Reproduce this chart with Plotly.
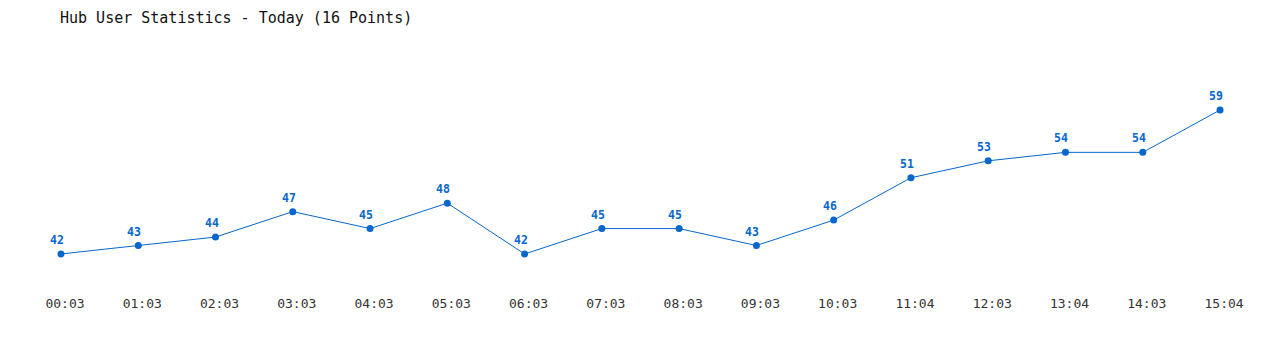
import plotly.graph_objects as go

times = ["00:03", "01:03", "02:03", "03:03", "04:03", "05:03", "06:03", "07:03",
         "08:03", "09:03", "10:03", "11:04", "12:03", "13:04", "14:03", "15:04"]
users = [42, 43, 44, 47, 45, 48, 42, 45, 45, 43, 46, 51, 53, 54, 54, 59]
title_text = "Hub User Statistics - Today (16 Points)"

blue = "#0866cc"
mono = "DejaVu Sans Mono"
xs = list(range(len(times)))

fig = go.Figure()
fig.add_trace(go.Scatter(
    x=xs, y=users,
    mode="lines+markers",
    line=dict(color=blue, width=1),
    marker=dict(color=blue, size=7),
    hoverinfo="skip",
    cliponaxis=False,
))

for x, v in zip(xs, users):
    fig.add_annotation(x=x, y=v, text=str(v), showarrow=False,
                       xanchor="center", yanchor="middle", xshift=-4, yshift=14,
                       font=dict(family=mono, size=11.5, color=blue, weight="bold"))

fig.update_layout(
    width=1280, height=350,
    margin=dict(l=0, r=0, t=0, b=58),
    paper_bgcolor="white", plot_bgcolor="white",
    showlegend=False,
    title=dict(text=title_text, x=60/1280, xanchor="left", xref="container",
               y=1 - 18/350, yanchor="middle", yref="container",
               font=dict(family=mono, size=15, color="#111")),
    xaxis=dict(range=[-0.789, 15.776], tickvals=xs, ticktext=times,
               showgrid=False, zeroline=False, showline=False, ticks="",
               ticklabelshift=4, ticklabelstandoff=2,
               tickfont=dict(family=mono, size=13, color="#333")),
    yaxis=dict(range=[37.51, 71.99], visible=False, showgrid=False, zeroline=False),
)

fig.write_html("out.html")
